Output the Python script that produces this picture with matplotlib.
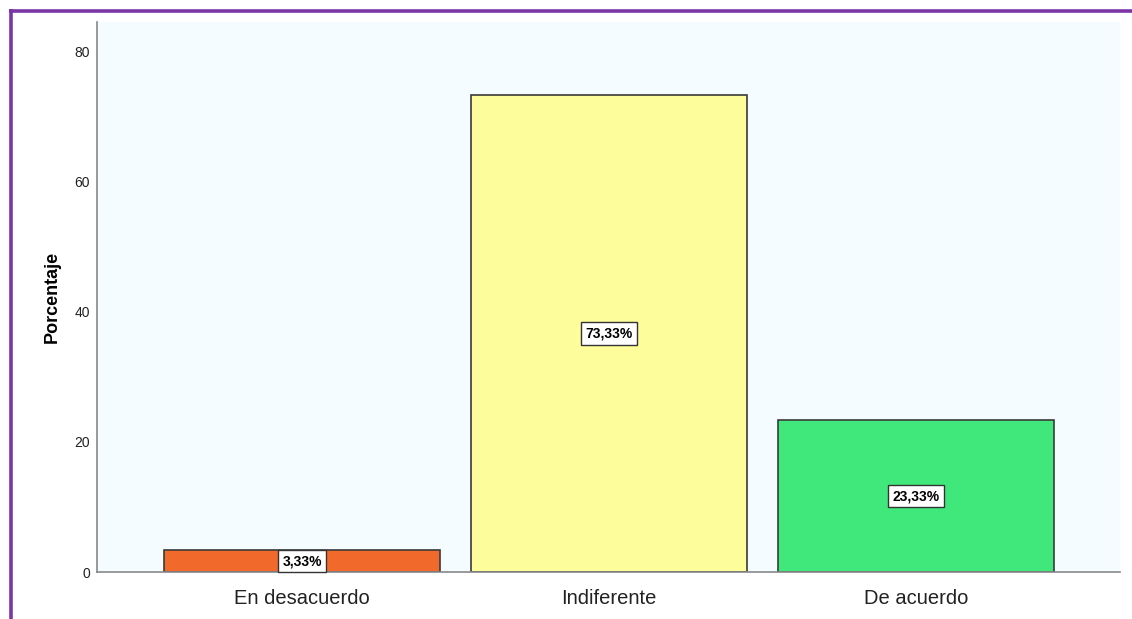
import matplotlib
matplotlib.use("Agg")
import matplotlib.pyplot as plt
from matplotlib.lines import Line2D

categorias = ["En desacuerdo", "Indiferente", "De acuerdo"]
porcentajes = [3.33, 73.33, 23.33]
etiquetas = ["3,33%", "73,33%", "23,33%"]
colores = ["#F26A2B", "#FEFD9B", "#40E87C"]

plt.rcParams["font.family"] = ["Liberation Sans", "DejaVu Sans"]

fig = plt.figure(figsize=(11.32, 6.19), dpi=100)
W, H = 1132, 619
ax = fig.add_axes([97 / W, 1 - 572 / H, (1120 - 97) / W, (572 - 22) / H])
ax.set_facecolor("#F4FCFF")

x = range(len(categorias))
ax.bar(x, porcentajes, width=0.9, color=colores, edgecolor="#3a3a3a", linewidth=1.2, zorder=2)
for i, v in enumerate(porcentajes):
    ax.text(i, v / 2, etiquetas[i], ha="center", va="center", fontsize=10,
            fontweight="bold", family="Liberation Sans",
            bbox=dict(boxstyle="square,pad=0.3", fc="white", ec="#333333", lw=1), zorder=3)

ax.set_xlim(-0.668, 2.664)
ax.set_ylim(0, 84.6)
ax.set_yticks([0, 20, 40, 60, 80])
ax.set_xticks(list(x))
ax.set_xticklabels(categorias, fontsize=14.5, color="#222222")
ax.tick_params(axis="y", labelsize=10, length=0, pad=5, colors="#222222")
ax.tick_params(axis="x", length=0, pad=12)
ax.set_ylabel("Porcentaje", fontsize=13, fontweight="bold", labelpad=10)
for s in ["top", "right"]:
    ax.spines[s].set_visible(False)
for s in ["left", "bottom"]:
    ax.spines[s].set_color("#888888")
    ax.spines[s].set_linewidth(1.2)

# purple frame (top and left)
fig.add_artist(Line2D([9 / W, 1], [1 - 10.5 / H, 1 - 10.5 / H], color="#7B35A6", lw=2.6,
                      solid_capstyle="butt", transform=fig.transFigure))
fig.add_artist(Line2D([10.5 / W, 10.5 / W], [0, 1 - 9 / H], color="#7B35A6", lw=2.6,
                      solid_capstyle="butt", transform=fig.transFigure))

fig.savefig("out.png", dpi=100)
